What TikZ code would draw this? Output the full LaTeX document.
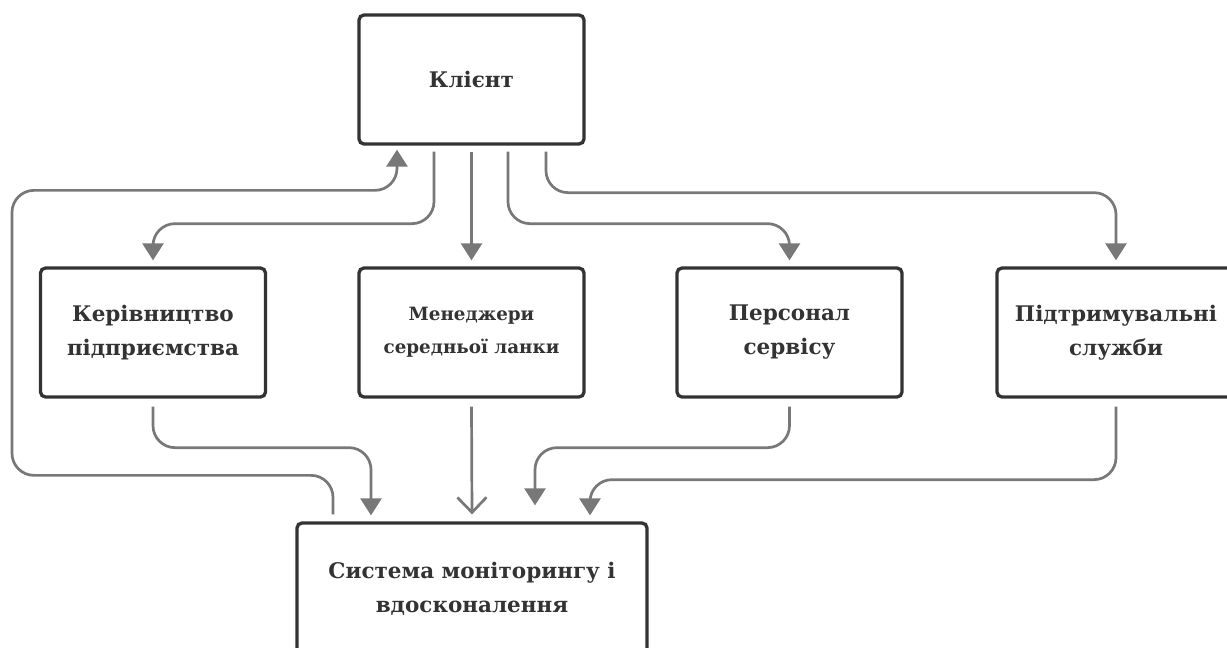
\documentclass[tikz,border=0pt]{standalone}
\usepackage{fontspec}
\setmainfont{DejaVu Serif}
\usetikzlibrary{arrows.meta}
\definecolor{boxline}{HTML}{333333}
\definecolor{linkgray}{HTML}{787878}
\begin{document}
\begin{tikzpicture}[x=1pt,y=-1pt,
    block/.style={draw=boxline, line width=3.3pt, rounded corners=5pt, fill=white, text=boxline,
      font=\bfseries\fontsize{21.5}{34}\selectfont, align=center,
      minimum width=225pt, minimum height=129pt, inner sep=0pt},
    link/.style={draw=linkgray, line width=2.7pt, rounded corners=22pt, -{Triangle[width=21pt,length=17pt]}},
    openlink/.style={draw=linkgray, line width=2.7pt, -{Straight Barb[width=29pt,length=15pt]}}]
    \fill[white] (0,0) rectangle (1227,648);
    \useasboundingbox (0,0) rectangle (1227,648);
    % boxes
    \node[block] (klient) at (471.5,79.5) {Клієнт};
    \node[block] (kerivn) at (153,332.5) {Керівництво\\підприємства};
    \node[block, font=\bfseries\fontsize{18.3}{33}\selectfont] (menedz) at (471.5,332.5) {Менеджери\\середньої ланки};
    \node[block] (person) at (789.5,332.5) {Персонал\\сервісу};
    \node[block, minimum width=238pt] (pidtr) at (1116,332.5) {Підтримувальні\\служби};
    \node[block, minimum width=350pt, minimum height=131pt] (system) at (472,588.5) {Система моніторингу і\\вдосконалення};
    % from the client
    \draw[link] ([xshift=-37.5pt,yshift=-6pt]klient.south) -- ++(0,72) -| ([yshift=6pt]kerivn.north);
    \draw[link] ([yshift=-6pt]klient.south) -- ([yshift=6pt]menedz.north);
    \draw[link] ([xshift=36.5pt,yshift=-6pt]klient.south) -- ++(0,72) -| ([yshift=6pt]person.north);
    \draw[link] ([xshift=74.5pt,yshift=-6pt]klient.south) -- ++(0,41) -| ([yshift=6pt]pidtr.north);
    % into the system
    \draw[link] ([yshift=-8pt]kerivn.south) -- ++(0,41) -| ([xshift=-101pt,yshift=6pt]system.north);
    \draw[openlink] ([yshift=-8pt]menedz.south) -- ([yshift=7pt]system.north);
    \draw[link] ([yshift=-8pt]person.south) -- ++(0,41) -| ([xshift=63pt,yshift=16pt]system.north);
    \draw[link] ([yshift=-8pt]pidtr.south) -- ++(0,73) -| ([xshift=118pt,yshift=6pt]system.north);
    % feedback
    \draw[link] ([xshift=-139pt,yshift=7pt]system.north) -- ++(0,-39) -- ++(-321,0) -- ++(0,-285) -| ([xshift=-74.5pt,yshift=-4pt]klient.south);
\end{tikzpicture}
\end{document}
